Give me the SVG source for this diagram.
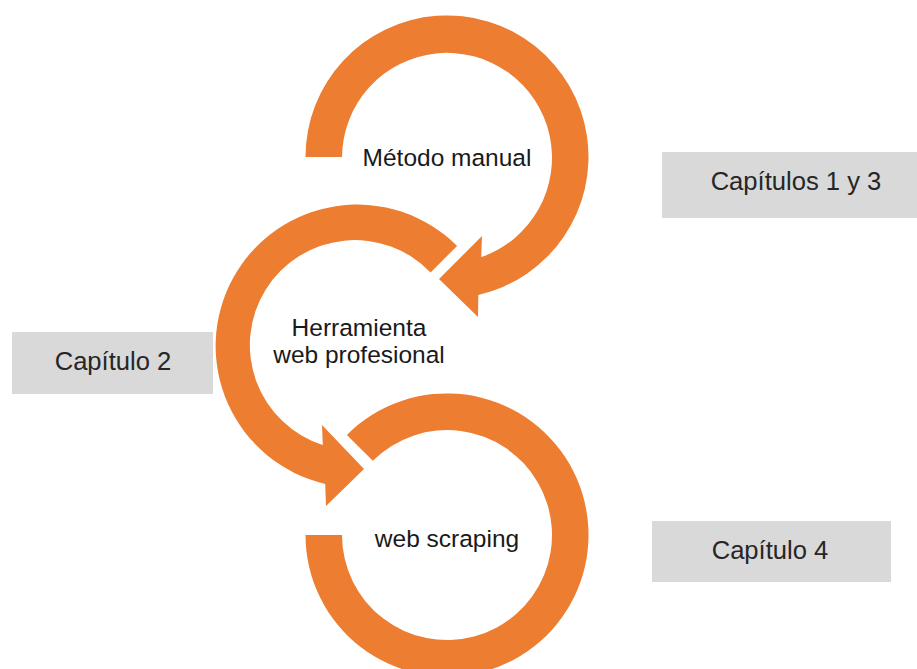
<svg xmlns="http://www.w3.org/2000/svg" width="917" height="669" viewBox="0 0 917 669">
<style>
.arrow{fill:#ED7D31;stroke:none}
.box{fill:#D9D9D9;stroke:none}
.t{font-family:"Liberation Sans",Arial,sans-serif;fill:#1a1a1a;text-anchor:middle}
.lbl{font-size:24.5px}
.cap{font-size:25.6px;fill:#262626}
</style>
<rect width="917" height="669" fill="#ffffff"/>
<g id="connectors">
<path id="arrow1" class="arrow" d="M305.5,157 A141.5,141.5 0 1 1 478.3,294.9 L478,317 L439,279 L482,236 L481.2,257.1 A105,105 0 1 0 342,157 Z"/>
<path id="arrow2" class="arrow" d="M457.1,245.9 A141.5,141.5 0 1 0 325.2,483.9 L326,506 L364,469 L322,425 L322.8,445.1 A105,105 0 1 1 430.6,272.4 Z"/>
<path id="arrow3" class="arrow" d="M346.9,434.9 A141.5,141.5 0 1 1 305.5,535 L342,535 A105,105 0 1 0 372.8,460.8 Z"/>
</g>
<g id="node-metodo">
<text class="t lbl" x="447" y="165.7">Método manual</text>
</g>
<g id="node-herramienta">
<text class="t lbl" x="359" y="335.7">Herramienta</text>
<text class="t lbl" x="359" y="363.3">web profesional</text>
</g>
<g id="node-scraping">
<text class="t lbl" x="447" y="547.3">web scraping</text>
</g>
<g id="box-cap13">
<rect class="box" x="662" y="152" width="255" height="66"/>
<text class="t cap" x="796" y="190">Capítulos 1 y 3</text>
</g>
<g id="box-cap2">
<rect class="box" x="12" y="332" width="201" height="62"/>
<text class="t cap" x="113" y="370">Capítulo 2</text>
</g>
<g id="box-cap4">
<rect class="box" x="652" y="521" width="239" height="61"/>
<text class="t cap" x="770" y="559.3">Capítulo 4</text>
</g>
</svg>
